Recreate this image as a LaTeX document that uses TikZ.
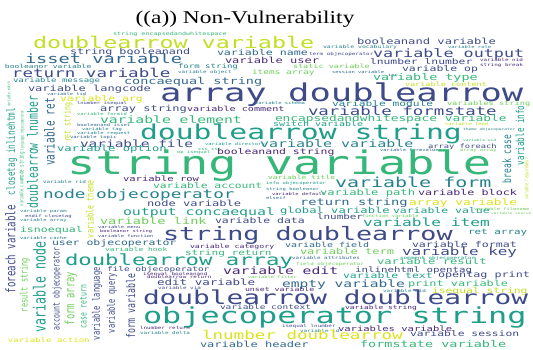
\documentclass[tikz,border=0pt]{standalone}
\usepackage{fontspec}
\newfontfamily\wcfont{DejaVu Sans Mono}
\newfontfamily\titlefont{Liberation Serif}
\definecolor{c0}{HTML}{440154}
\definecolor{c1}{HTML}{482878}
\definecolor{c2}{HTML}{3E4A89}
\definecolor{c3}{HTML}{31688E}
\definecolor{c4}{HTML}{26828E}
\definecolor{c5}{HTML}{1F9E89}
\definecolor{c6}{HTML}{35B779}
\definecolor{c7}{HTML}{6ECE58}
\definecolor{c8}{HTML}{C2DF23}
\definecolor{c9}{HTML}{DDE318}
\tikzset{
  word/.style={anchor=base west, inner sep=0pt, outer sep=0pt, xscale=1.45},
  vword/.style={anchor=base west, inner sep=0pt, outer sep=0pt, xscale=1.45, rotate=90},
}
% glyphs are drawn 1.45 times wider than normal; horizontal sizes are given
% for a 1.35 stretch and rescaled here so that the word widths stay the same
\newcommand\hscale{0.931}
% horizontal word: name, x, baseline, size, colour, text
\newcommand\wordh[6]{\pgfmathsetmacro\wsz{#4*\hscale}%
  \node[word, text=#5, font={\wcfont\fontsize{\wsz}{\wsz}\selectfont}] (#1) at (#2,#3) {#6};}
% vertical word, read bottom to top: name, baseline x, bottom y, size, colour, text
\newcommand\wordv[6]{\node[vword, text=#5, font={\wcfont\fontsize{#4}{#4}\selectfont}] (#1) at (#2,#3) {#6};}
\begin{document}
\begin{tikzpicture}[x=1pt, y=-1pt]
\fill[white] (0,0) rectangle (533,350);
\useasboundingbox (0,0) rectangle (533,350);

\node[anchor=base, inner sep=0pt, xscale=1.3, font={\titlefont\fontsize{18}{18}\selectfont}] (title) at (245,24) {((a)) Non-Vulnerability};

% top rows
\wordh{sew}{113}{35.5}{5}{c6}{string encapsedandwhitespace}
\wordh{dva}{33}{49}{17.3}{c8}{doublearrow variable}
\wordh{boa}{357}{45}{9}{c2}{booleanand variable}
\wordh{voc}{323}{48.5}{4.8}{c4}{variable vocabulary}
\wordh{vrole}{448}{48.5}{4.1}{c4}{variable role}
\wordh{sba}{70}{55}{8.7}{c2}{string booleanand}
\wordh{vnm}{217}{56}{8.6}{c3}{variable name}
\wordh{top}{309}{56}{4.4}{c2}{term objecoperator}
\wordh{vout}{373}{58}{12.4}{c2}{variable output}
\wordh{vus}{225}{63.5}{8.9}{c1}{variable user}
\wordh{isv}{25}{64}{13.8}{c3}{isset variable}
\wordh{lnl}{370}{65}{8.4}{c2}{lnumber lnumber}
\wordh{vnid}{480}{62}{4.4}{c1}{variable nid}
\wordh{sbr}{480}{66.5}{4.4}{c1}{string break}
\wordh{bov}{5}{69}{5.9}{c4}{booleanor variable}
\wordh{fst}{178}{68.5}{6.7}{c4}{form string}
\wordh{stv}{293}{68.5}{6.3}{c7}{static variable}
\wordh{vob}{178}{73.5}{4.4}{c4}{variable object}
\wordh{sesv}{332}{74}{4}{c3}{session variable}
\wordh{vop}{402}{72}{8.5}{c2}{variable op}
\wordh{inc}{388}{76.5}{4}{c3}{inc}
\wordh{ita}{252}{75}{7}{c7}{items array}
\wordh{rtv}{12}{77.5}{13}{c2}{return variable}
\wordh{vty}{373}{81}{9.9}{c6}{variable type}
\wordh{vms}{13}{83}{6.7}{c4}{variable message}
\wordh{ces}{124}{84.5}{10}{c3}{concaequal string}
\wordh{vct}{405}{86.5}{6.3}{c8}{variable content}
\wordh{vlc}{28}{91.5}{8.9}{c2}{variable langcode}
\wordh{vtd}{47}{95.5}{4}{c3}{variable tid}
\wordh{ad}{160}{101.5}{26.3}{c2}{array doublearrow}
\wordh{varg}{60}{101.5}{8.5}{c9}{variable arg}
\wordh{lnie}{77}{105}{4.1}{c2}{lnumber isequal}
\wordh{vsc}{255}{105}{4.1}{c4}{variable schema}
\wordh{vmod}{332}{106.5}{8.3}{c4}{variable module}
\wordh{vss}{447}{105.5}{6.4}{c7}{variables string}
\wordh{ast}{100}{112}{8.9}{c2}{array string}
\wordh{vcm}{187}{112}{7.5}{c1}{variable comment}
\wordh{vfmid}{77}{115.5}{4.1}{c6}{variable formid}
\wordh{vfs}{308}{115.5}{12.9}{c2}{variable formstate}
\wordh{ewv}{275}{121.5}{9.5}{c6}{encapsedandwhitespace variable}
\wordh{vel}{100}{123.5}{10.9}{c6}{variable element}
\wordh{vfd}{445}{126}{4.1}{c8}{variable feed}
\wordh{bai}{77}{126.5}{4.1}{c3}{booleanand isset}
\wordh{swv}{273}{127}{7.4}{c5}{switch variable}
\wordh{vtag}{82}{130.5}{4.1}{c4}{variable tag}
\wordh{thob}{463}{131}{3.4}{c4}{theme objecoperator}
\wordh{vreq}{77}{134.5}{4.1}{c4}{variable request}
\wordh{vtop}{70}{139}{4.1}{c3}{variable topic}
\wordh{ds}{140}{139.5}{22}{c5}{doublearrow string}

% middle rows
\wordh{vdir}{205}{146}{4.1}{c5}{variable directory}
\wordh{vuid}{463}{142}{3.4}{c6}{variable uid}
\wordh{css}{198}{150.5}{4.1}{c6}{css css}
\wordh{vfile}{80}{147.5}{10.7}{c2}{variable file}
\wordh{vv}{260}{148}{11.1}{c4}{variable variable}
\wordh{afe}{428}{148.5}{6.5}{c2}{array foreach}
\wordh{vopt}{57}{152}{9}{c5}{variable option}
\wordh{opis}{177}{154}{4.1}{c6}{op isequal}
\wordh{vfv}{380}{152}{4}{c3}{variable formvalues}
\wordh{aa}{460}{152}{4.1}{c7}{array array}
\wordh{boas}{217}{154.5}{8.5}{c1}{booleanand string}
\wordh{sv}{67}{174.5}{34.8}{c6}{string variable}
\wordh{vrid}{43}{183.5}{4.4}{c4}{variable rid}
\wordh{vtt}{268}{179}{5.9}{c7}{variable title}
\wordh{vrow}{123}{181.5}{7.8}{c1}{variable row}
\wordh{iob}{266}{184.5}{4.1}{c5}{info objecoperator}
\wordh{vfm}{335}{187}{14.8}{c4}{variable form}
\wordh{vac}{153}{188.5}{8.4}{c6}{variable account}
\wordh{sbo}{266}{190}{4.1}{c4}{string booleanor}
\wordh{vdef}{272}{195}{4.1}{c1}{variable default}
\wordh{vpath}{320}{196}{9}{c6}{variable path}
\wordh{vblk}{418}{196}{8.7}{c1}{variable block}
\wordh{nob}{43}{198.5}{13.1}{c4}{node objecoperator}
\wordh{elif}{266}{200}{4.1}{c3}{elseif}
\wordh{rts}{300}{205}{10.2}{c3}{return string}
\wordh{avar}{409}{205}{9.5}{c9}{array variable}
\wordh{nvar}{147}{207}{8.9}{c2}{node variable}
\wordh{vfn}{474}{210}{4}{c7}{variable filename}
\wordh{vpar}{20}{212}{4.1}{c4}{variable param}
\wordh{glv}{280}{213}{9}{c5}{global variable}
\wordh{vval}{393}{213}{8.5}{c5}{variable value}
\wordh{vsrc}{491}{214.5}{3.3}{c7}{variable source}
\wordh{ocq}{123}{215}{11}{c5}{output concaequal}
\wordh{efc}{25}{217}{4.1}{c2}{endif closetag}
\wordh{fnv}{362}{218}{4.1}{c7}{function variable}
\wordh{lnb}{317}{219.5}{8.1}{c2}{lnumber}
\wordh{varr}{20}{222}{4.1}{c4}{variable array}
\wordh{vdat}{215}{223.5}{8.5}{c2}{variable data}
\wordh{vlink}{100}{224.5}{10.1}{c7}{variable link}
\wordh{vitm}{363}{226}{12}{c5}{variable item}
\wordh{vmenu}{98}{228.5}{4}{c2}{variable menu}
\wordh{isn}{20}{233}{8.6}{c6}{isnoequal}
\wordh{bos}{100}{233}{4}{c1}{booleanor string}
\wordh{rta}{468}{234.5}{8.1}{c4}{ret array}
\wordh{vfun}{98}{237.5}{4}{c2}{variable function}
\wordh{vcache}{20}{239}{4.1}{c4}{variable cache}
\wordh{sdoub}{163}{240.5}{19.8}{c2}{string doublearrow}

% lower rows
\wordh{uob}{52}{245}{8.5}{c3}{user objecoperator}
\wordh{vfmt}{412}{247}{8.6}{c2}{variable format}
\wordh{vfld}{285}{247}{7.4}{c3}{variable field}
\wordh{vcat}{190}{248.5}{6.1}{c1}{variable category}
\wordh{vhook}{105}{251}{5.9}{c6}{variable hook}
\wordh{vterm}{300}{254}{8.9}{c7}{variable term}
\wordh{str}{185}{255.5}{8.2}{c6}{string return}
\wordh{vkey}{402}{255.5}{11.8}{c2}{variable key}
\wordh{cob}{400}{259.5}{4.4}{c5}{comment objecoperator}
\wordh{vatt}{292}{259.5}{4.4}{c3}{variable attributes}
\wordh{da}{65}{265}{16.5}{c5}{doublearrow array}
\wordh{fobo}{296}{265}{4.4}{c7}{field objecoperator}
\wordh{vres}{377}{264.5}{9}{c6}{variable result}
\wordh{ioh}{355}{272.5}{8}{c2}{inlinehtml opentag}
\wordh{fob}{107}{271.5}{7}{c2}{file objecoperator}
\wordh{vedit}{223}{274}{10.9}{c1}{variable edit}
\wordh{ibo}{143}{275}{4.4}{c1}{isequal booleanand}
\wordh{otp}{438}{277}{8.7}{c2}{opentag print}
\wordh{dret}{147}{278.5}{4.4}{c1}{doublearrow return}
\wordh{vfil}{248}{278.5}{4}{c7}{variable filter}
\wordh{vtext}{343}{278.5}{8.5}{c5}{variable text}
\wordh{edv}{157}{285}{9.3}{c2}{edit variable}
\wordh{prv}{408}{286}{8.8}{c6}{print variable}
\wordh{emv}{282}{287.5}{10.8}{c3}{empty variable}
\wordh{vvia}{158}{289.5}{4.4}{c2}{variable via}
\wordh{unv}{245}{291.5}{6.1}{c1}{unset variable}
\wordh{vaid}{383}{292}{4.4}{c4}{variable aid}
\wordh{ies}{432}{293.5}{8.4}{c8}{isequal string}
\wordh{dd}{143}{304}{20.6}{c2}{doublearrow doublearrow}
\wordh{vstr}{345}{309}{5.9}{c1}{variable string}
\wordh{vctx}{220}{309.5}{7}{c2}{variable context}
\wordh{os}{143}{323}{23.6}{c5}{objecoperator string}
\wordh{ilb}{282}{327}{4.4}{c2}{isequal lnumber}
\wordh{lnr}{140}{329}{4.4}{c1}{lnumber return}
\wordh{vvar}{338}{331}{7.8}{c1}{variables variable}
\wordh{vid}{300}{332}{4.4}{c4}{variable id}
\wordh{vdel}{140}{334}{4.4}{c4}{variable delta}
\wordh{vses}{410}{336.5}{8.4}{c2}{variable session}
\wordh{lnd}{202}{339.5}{13}{c9}{lnumber doublearrow}
\wordh{vact}{8}{342}{6.7}{c9}{variable action}
\wordh{vhead}{200}{347}{8.9}{c3}{variable header}
\wordh{fsv}{360}{347.5}{10}{c6}{formstate variable}

% vertical words
\wordv{vmat}{10.4}{107}{3}{c6}{variable match}
\wordv{cih}{14.8}{195}{7.6}{c5}{closetag inlinehtml}
\wordv{lob}{23.5}{150}{3}{c6}{language objecoperator}
\wordv{nst}{23.5}{180}{4.2}{c6}{node string}
\wordv{vcnt}{23.3}{206}{3.5}{c6}{variable count}
\wordv{dln}{37.8}{208}{9.8}{c5}{doublearrow lnumber}
\wordv{vret}{54.6}{166}{9.4}{c3}{variable ret}
\wordv{rst}{70.5}{142}{6.5}{c8}{ret string}
\wordv{vthm}{93.7}{238}{6.8}{c8}{variable theme}
\wordv{vfe}{15.5}{293}{9.1}{c2}{foreach variable}
\wordv{rsv}{27.7}{312}{6.9}{c7}{result string}
\wordv{vnd}{45.5}{332}{11.5}{c5}{variable node}
\wordv{aob}{59.5}{330}{6.5}{c2}{account objecoperator}
\wordv{far}{74.4}{325}{8.8}{c7}{form array}
\wordv{crt}{86.5}{328}{6.5}{c6}{case return}
\wordv{vlang}{99.8}{340}{7.1}{c2}{variable language}
\wordv{vqry}{114.8}{333}{7.1}{c2}{variable query}
\wordv{fvar}{135.2}{338}{8.2}{c2}{form variable}
\wordv{bcs}{511.2}{183}{8}{c4}{break case}
\wordv{vinfo}{524}{165}{7.6}{c5}{variable info}
\wordv{vreqm}{528.4}{200}{3.5}{c8}{variable requirement}
\end{tikzpicture}
\end{document}
